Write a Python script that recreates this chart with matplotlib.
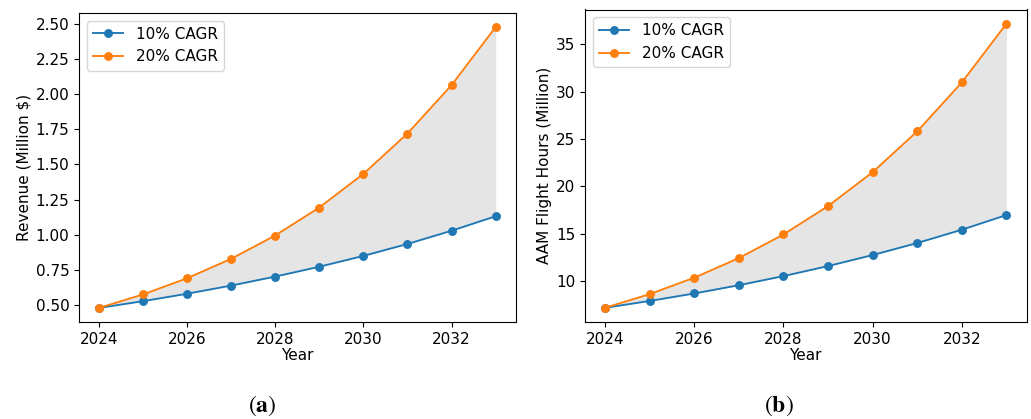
import numpy as np
import matplotlib.pyplot as plt

# Projection years
years = [2024, 2025, 2026, 2027, 2028, 2029, 2030, 2031, 2032, 2033]

# Revenue (Million $)
rev_10 = [0.48, 0.528, 0.581, 0.639, 0.703, 0.773, 0.850, 0.935, 1.029, 1.132]
rev_20 = [0.48, 0.576, 0.691, 0.829, 0.995, 1.194, 1.433, 1.720, 2.064, 2.477]

# AAM flight hours (Million)
hrs_10 = [7.2, 7.92, 8.71, 9.58, 10.54, 11.60, 12.76, 14.03, 15.43, 16.98]
hrs_20 = [7.2, 8.64, 10.37, 12.44, 14.93, 17.92, 21.50, 25.80, 30.96, 37.15]

ylabels = ['Revenue (Million $)', 'AAM Flight Hours (Million)']
captions = ['a', 'b']

plt.rcParams['mathtext.fontset'] = 'stix'
plt.rcParams['axes.linewidth'] = 0.8

fs = 11
fig = plt.figure(figsize=(10.31, 4.19), dpi=100)
ax1 = fig.add_axes([79 / 1031, 1 - 322 / 419, 436.5 / 1031, 309 / 419])
ax2 = fig.add_axes([585 / 1031, 1 - 322 / 419, 441.5 / 1031, 312.5 / 419])

for ax, lo, hi, lab in [(ax1, rev_10, rev_20, ylabels[0]),
                        (ax2, hrs_10, hrs_20, ylabels[1])]:
    ax.plot(years, lo, marker='o', ms=5.4, lw=1.35, color='#1f77b4',
            label='10% CAGR')
    ax.plot(years, hi, marker='o', ms=5.4, lw=1.35, color='#ff7f0e',
            label='20% CAGR')
    ax.fill_between(years, lo, hi, color='gray', alpha=0.2, lw=0)
    ax.set_xlabel('Year', fontsize=fs, labelpad=1)
    ax.set_ylabel(lab, fontsize=fs, labelpad=3)
    ax.tick_params(labelsize=fs)
    ax.set_xticks([2024, 2026, 2028, 2030, 2032])
    ax.legend(loc='upper left', fontsize=fs)

ax1.set_yticks([0.5, 0.75, 1.0, 1.25, 1.5, 1.75, 2.0, 2.25, 2.5])
ax1.set_yticklabels(['%.2f' % v for v in ax1.get_yticks()])
ax2.set_yticks([10, 15, 20, 25, 30, 35])

# Sub-figure captions
fig.text(262 / 1031, 1 - 406 / 419, r'($\mathbf{%s}$)' % captions[0],
         ha='center', va='center', fontsize=17, family='STIXGeneral')
fig.text(779 / 1031, 1 - 406 / 419, r'($\mathbf{%s}$)' % captions[1],
         ha='center', va='center', fontsize=17, family='STIXGeneral')

fig.savefig('out.png', dpi=100)
